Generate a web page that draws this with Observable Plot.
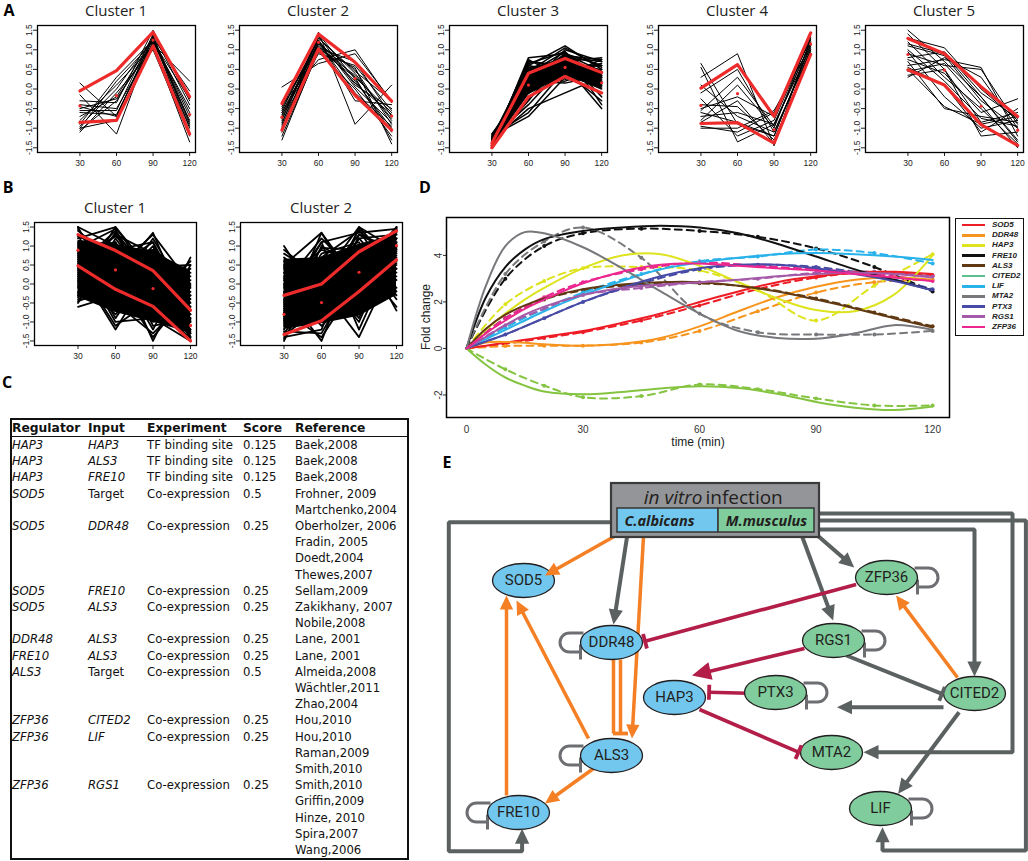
<!DOCTYPE html>
<html><head><meta charset="utf-8">
<script src="https://cdn.jsdelivr.net/npm/d3@7"></script>
<script src="https://cdn.jsdelivr.net/npm/@observablehq/plot@0.6"></script>
<style>
body{margin:0;background:#fff;}
#page{position:relative;width:1028px;height:861px;overflow:hidden;font-family:"Liberation Sans",Arial,sans-serif;}
.pl{position:absolute;font-family:"Open Sans",sans-serif;font-weight:700;font-size:16px;line-height:1;transform:translate(-50%,-50%);}
.ttl{position:absolute;font-family:"Open Sans",sans-serif;font-size:15px;line-height:1;transform:translate(-50%,-50%);white-space:nowrap;color:#222;}
.cell{position:absolute;font-family:"DejaVu Sans",Verdana,sans-serif;font-size:11.7px;line-height:1;white-space:nowrap;transform:translateY(-50%);color:#111;}
.hd{font-weight:700;font-size:12.3px;}
.it{font-style:italic;}
svg{max-width:none!important;}
</style></head>
<body><div id="page"></div>
<script>
// ---------------- DATA ----------------
const aTimes = [30, 60, 90, 120];
const aYTicks = [-1.5, -1, -0.5, 0, 0.5, 1, 1.5];

const a1Genes = [
 [0.15,-0.7,1.3,-0.9],[-0.15,-1.15,1.35,-1.0],[-1.05,-0.3,1.25,-0.6],[-1.0,0.2,1.2,-0.8],
 [-0.95,0.0,1.3,-1.1],[-0.6,-0.65,1.2,-0.5],[-0.5,-0.25,1.15,0.2],[-0.4,-0.5,1.1,-1.35],
 [-0.55,-0.55,1.4,-0.4],[-0.9,0.3,1.25,-0.7],[-1.1,-0.1,1.0,-1.2],[-0.3,-0.35,1.5,-0.3],
 [-0.7,-0.2,1.3,-0.05],[-0.8,0.1,1.1,-0.95],[-0.45,-0.7,1.35,-0.85],[-1.0,-0.8,1.2,-0.25]];
const a1Upper = [-0.05,0.47,1.45,-0.2], a1Lower = [-0.85,-0.8,1.1,-1.15], a1Mean = [-0.43,-0.17,1.25,-0.65];

const a2Genes = [
 [0.05,0.65,0.9,-0.3],[-1.3,1.0,0.55,-1.4],[-0.9,1.45,-0.9,0.1],[-0.4,0.75,1.0,-0.35],
 [-0.5,1.2,0.3,-0.6],[-0.7,1.3,0.4,-0.8],[-1.0,1.1,0.2,-1.0],[-0.8,1.35,0.1,-0.5],
 [-0.6,1.15,0.5,-0.9],[-1.2,0.95,0.0,-1.2],[-0.45,1.25,-0.3,-0.4],[-0.85,1.05,0.35,-0.75],
 [-1.1,1.4,0.25,-1.1],[-0.65,0.9,0.6,-0.55],[-0.75,1.2,-0.1,-0.95],[-0.55,1.3,0.45,-0.3],
 [-0.95,1.15,0.15,-0.65],[-0.35,1.05,0.7,-0.7],[-1.05,1.25,0.05,-0.85],[-0.6,1.0,0.3,-1.3]];
const a2Upper = [-0.37,1.4,0.68,-0.31], a2Lower = [-1.05,1.02,-0.16,-1.05], a2Mean = [-0.72,1.19,0.27,-0.69];

const a3Genes = [
 [-1.45,0.8,0.9,0.3],[-1.4,0.6,1.1,0.5],[-1.5,0.4,0.7,0.8],[-1.35,0.2,0.9,0.6],[-1.3,0.5,0.5,0.2],
 [-1.2,-0.7,0.3,0.4],[-1.25,-0.4,0.6,0.1],[-1.15,0.0,0.8,-0.2],[-1.45,0.3,0.2,0.5],[-1.4,0.1,1.0,0.7],
 [-1.5,-0.2,0.4,0.0],[-1.35,0.7,0.6,-0.5],[-1.3,-0.5,-0.1,0.3],[-1.45,0.55,0.35,0.75],[-1.2,0.25,0.75,0.45],
 [-1.4,-0.1,0.55,0.6],[-1.5,0.65,0.95,0.15],[-1.25,0.35,0.45,-0.3],[-1.35,-0.3,0.85,0.35],[-1.45,0.15,0.65,0.25],
 [-1.3,0.45,1.05,0.55],[-1.4,0.75,0.25,0.4],[-1.2,-0.6,0.5,0.65],[-1.5,0.05,0.3,-0.1],[-1.35,0.5,0.8,0.7],
 [-1.25,0.6,0.4,0.05],[-1.45,-0.25,0.7,0.2],[-1.3,0.3,0.6,0.5],[-1.4,0.4,0.95,-0.4],[-1.15,0.2,0.15,0.35],
 [-1.5,0.7,0.55,0.6],[-1.35,-0.05,0.9,0.45],[-1.25,0.55,0.7,0.3],[-1.45,0.35,0.5,0.1],[-1.3,0.1,0.85,0.75]];
const a3Upper = [-1.38,0.4,0.78,0.42], a3Lower = [-1.5,-0.2,0.32,-0.1], a3Mean = [-1.44,0.1,0.55,0.16];
const a3CoreHi = [-1.3,0.45,0.75,0.45], a3CoreLo = [-1.45,-0.15,0.35,0.0];

const a4Genes = [
 [0.65,-0.9,-1.2,1.1],[0.55,-1.35,-0.9,1.2],[0.3,0.9,-1.45,1.3],[-0.1,0.5,-1.1,1.0],[-0.5,-0.2,-0.7,1.35],
 [-0.7,-0.6,-0.9,1.05],[-0.95,-1.1,-0.6,1.25],[-0.4,-0.45,-1.3,0.9],[-0.8,0.1,-1.0,1.4],[-0.6,-0.85,-1.2,1.15],
 [-0.25,-1.2,-0.8,1.3],[-0.85,-0.3,-1.4,1.0],[-0.55,0.3,-0.95,1.2],[0.1,-0.7,-1.1,0.95],[-1.0,-1.0,-0.55,1.1]];
const a4Upper = [0.02,0.62,-0.7,1.43], a4Lower = [-0.88,-0.86,-1.38,0.88], a4Mean = [-0.42,-0.12,-1.04,1.15];

const a5Genes = [
 [1.5,0.7,-0.2,-1.3],[1.3,1.05,0.0,-0.8],[1.1,0.85,-0.3,-1.0],[0.9,0.6,0.5,-0.9],[0.75,0.4,-0.6,-0.25],
 [0.5,-0.45,-0.9,-0.7],[0.35,0.5,-1.2,-1.1],[0.95,-0.2,-1.0,-0.8],[1.2,0.3,-0.5,-1.4],[0.6,0.75,0.55,-1.2],
 [0.8,0.95,-0.1,-0.75],[1.0,0.2,-0.75,-0.95],[0.45,0.65,-0.4,-1.5],[1.4,0.5,-0.85,-0.6],[0.7,-0.5,-0.7,-0.85],
 [0.3,0.8,0.3,-1.0],[1.15,0.9,-0.2,-1.35],[0.55,0.1,-1.1,-0.5]];
const a5Upper = [1.29,0.9,0.06,-0.7], a5Lower = [0.49,0.1,-0.91,-1.44], a5Mean = [0.88,0.48,-0.44,-1.05];

const b1Genes = [
 [1.5,-0.4,0.2,-1.2],[1.4,0.6,-0.5,-1.5],[1.2,1.5,0.3,-0.8],[1.0,0.2,1.35,-1.0],[0.9,1.1,-0.8,0.1],
 [0.8,-0.9,0.6,-0.6],[0.7,0.9,1.1,-1.4],[0.6,0.5,-1.2,0.7],[0.5,1.4,0.0,-0.3],[0.4,-1.2,0.4,-1.1],
 [0.3,0.7,-1.5,0.5],[0.2,1.3,0.8,-1.3],[0.1,-0.2,1.2,-0.5],[0.0,0.3,-0.9,-1.5],[-0.1,1.5,0.1,-0.9],
 [-0.2,-0.6,-0.3,0.6],[-0.3,0.8,0.9,0.2],[-0.4,0.1,-1.4,-0.2],[-0.5,1.2,-0.1,-1.4],[-0.6,-0.3,0.5,-0.7],
 [1.5,1.0,0.7,-0.4],[1.3,-0.7,-0.2,0.3],[1.1,0.4,1.3,0.0],[0.95,1.45,-0.6,-1.2],[0.75,-1.0,-0.9,-0.1],
 [0.55,0.0,1.0,-1.5],[0.35,1.0,-1.1,-0.9],[0.15,-0.8,0.2,0.4],[-0.05,0.6,0.7,-1.25],[-0.25,1.1,-0.7,-0.6],
 [-0.45,-0.1,0.9,-1.0],[1.45,0.2,-1.0,-0.8],[1.25,0.9,0.0,-1.3],[0.85,-0.5,-1.3,-0.3],[0.65,1.25,0.45,0.5],
 [0.45,-1.1,-0.4,-1.45],[0.25,0.45,1.1,-0.7],[1.05,0.7,-0.2,-0.95],[0.05,1.35,-0.5,-0.05],[-0.35,0.55,0.3,-1.1]];
const b1Upper = [1.3,0.88,0.35,-0.69], b1Lower = [0.48,-0.14,-0.59,-1.5], b1Mean = [0.89,0.37,-0.12,-1.09];
const b1CoreHi = [1.15,1.05,0.85,0.35], b1CoreLo = [-0.35,-0.75,-1.0,-1.3];

const b2Genes = [
 [1.0,-0.5,0.3,1.2],[0.8,0.2,-0.9,1.5],[0.5,1.35,-0.3,0.4],[0.3,-1.0,1.5,0.9],[0.1,0.9,0.6,-0.6],
 [-0.1,-0.3,1.2,1.3],[-0.3,1.1,-1.2,1.0],[-0.5,0.4,0.9,-0.3],[-0.7,-1.4,0.1,1.45],[-0.9,0.7,1.4,0.6],
 [-1.1,-0.8,-0.5,1.1],[-1.3,0.0,0.8,0.2],[-1.5,0.5,-0.1,1.4],[-1.4,-1.2,1.3,0.8],[-1.2,1.0,0.4,1.5],
 [-1.0,-0.1,-1.4,0.7],[-0.8,0.8,1.1,-0.7],[-0.6,-0.7,0.5,1.35],[-0.4,0.3,-0.7,1.05],[-0.2,-1.5,1.0,0.3],
 [0.0,1.2,0.2,1.2],[0.2,-0.4,1.45,-0.2],[0.4,0.6,-0.4,1.5],[0.6,-0.9,0.7,0.5],[0.9,0.1,1.3,0.9],
 [-0.95,1.35,0.0,0.85],[-1.35,-0.6,0.6,1.0],[-0.65,0.15,1.5,0.4],[-0.05,-1.1,-0.2,1.45],[-0.45,0.95,0.9,-0.4],
 [-1.45,0.25,-1.0,1.2],[-0.85,-0.2,1.2,0.1],[0.45,0.5,0.0,1.1],[-1.25,-1.3,0.45,0.75],[-0.25,0.7,-0.6,0.95],
 [0.7,-0.05,1.0,1.3],[-0.55,1.1,1.35,1.45],[-1.05,-0.45,-0.3,0.55],[0.15,0.4,0.75,-0.1],[-0.75,-1.0,0.35,1.4]];
const b2Upper = [-0.3,0.0,0.85,1.4], b2Lower = [-1.33,-0.97,-0.2,0.64], b2Mean = [-0.8,-0.49,0.31,1.01];
const b2CoreHi = [0.65,0.7,1.05,1.3], b2CoreLo = [-1.2,-1.05,-0.85,-0.3];

// Panel D
const dGenes = ["SOD5","DDR48","HAP3","FRE10","ALS3","CITED2","LIF","MTA2","PTX3","RGS1","ZFP36"];
const dLegendColors = ["#ee1c25","#f7941d","#dde31c","#111111","#603913","#5ec08e","#29b2ea","#77787b","#474ba6","#a45aa8","#ec268f"];
const dLineColors   = ["#ee1c25","#f7941d","#dde31c","#111111","#603913","#84c441","#29b2ea","#77787b","#474ba6","#a45aa8","#ec268f"];
const dTimes = [0,5,10,15,20,30,40,50,60,70,80,90,100,110,120];
const dSolid = [
 [0,0.12,0.25,0.37,0.5,0.75,1.1,1.5,2.0,2.45,2.85,3.1,3.25,3.3,3.2],
 [0,0.25,0.28,0.24,0.18,0.12,0.2,0.45,0.95,1.6,2.2,2.65,2.95,3.05,2.95],
 [0,0.8,1.5,2.1,2.6,3.45,4.0,4.05,3.55,2.85,2.15,1.65,1.6,2.3,4.0],
 [0,2.2,3.5,4.25,4.7,5.05,5.2,5.27,5.2,4.95,4.5,3.95,3.4,2.95,2.5],
 [0,0.85,1.45,1.85,2.15,2.55,2.75,2.85,2.85,2.7,2.45,2.1,1.72,1.3,0.9],
 [0,-0.7,-1.25,-1.6,-1.85,-1.97,-1.87,-1.72,-1.63,-1.7,-1.95,-2.3,-2.55,-2.65,-2.5],
 [0,0.4,0.8,1.2,1.6,2.3,2.9,3.4,3.7,3.9,4.05,4.1,4.05,3.95,3.8],
 [0,2.7,4.4,5.0,4.95,4.35,3.45,2.45,1.5,0.75,0.45,0.42,0.65,1.0,0.8],
 [0,0.3,0.6,0.95,1.3,2.0,2.6,3.1,3.45,3.6,3.6,3.45,3.2,2.9,2.5],
 [0,0.5,1.0,1.45,1.8,2.3,2.6,2.75,2.85,2.95,3.1,3.2,3.25,3.2,3.05],
 [0,0.65,1.2,1.7,2.1,2.8,3.3,3.6,3.65,3.55,3.45,3.35,3.2,3.05,2.9]];
const dDashTimes = [0,10,20,30,45,60,75,90,105,120];
const dDashed = [
 [0,0.2,0.45,0.7,1.2,1.85,2.55,3.05,3.3,3.15],
 [0,0.1,0.12,0.12,0.25,0.75,1.6,2.4,2.85,2.95],
 [0,1.9,2.9,3.45,3.5,3.35,2.5,1.2,2.7,4.05],
 [0,3.0,4.4,4.95,5.15,5.05,4.8,4.3,3.5,2.45],
 [0,1.3,2.1,2.5,2.75,2.8,2.6,2.15,1.55,0.95],
 [0,-0.9,-1.6,-2.1,-2.05,-1.55,-1.75,-2.15,-2.45,-2.45],
 [0,0.9,1.7,2.4,3.2,3.75,3.95,4.25,4.1,3.65],
 [0,3.2,4.6,5.2,3.9,1.5,0.7,0.6,0.6,0.75],
 [0,0.6,1.3,2.0,2.8,3.4,3.6,3.5,3.15,2.55],
 [0,1.0,1.7,2.3,2.6,2.85,3.0,3.25,3.3,3.1],
 [0,1.3,2.2,2.85,3.4,3.7,3.55,3.4,3.2,2.9]];
const dXTicks = [0,30,60,90,120];
const dYTicks = [-2,0,2,4];

// Panel C table
const tHeader = ["Regulator","Input","Experiment","Score","Reference"];
const tRegulator = ["HAP3","HAP3","HAP3","SOD5","","SOD5","","","","SOD5","SOD5","","DDR48","FRE10","ALS3","","","ZFP36","ZFP36","","","ZFP36","","","",""];
const tInput = ["HAP3","ALS3","FRE10","Target","","DDR48","","","","FRE10","ALS3","","ALS3","ALS3","Target","","","CITED2","LIF","","","RGS1","","","",""];
const tExperiment = ["TF binding site","TF binding site","TF binding site","Co-expression","","Co-expression","","","","Co-expression","Co-expression","","Co-expression","Co-expression","Co-expression","","","Co-expression","Co-expression","","","Co-expression","","","",""];
const tScore = ["0.125","0.125","0.125","0.5","","0.25","","","","0.25","0.25","","0.25","0.25","0.5","","","0.25","0.25","","","0.25","","","",""];
const tReference = ["Baek,2008","Baek,2008","Baek,2008","Frohner, 2009","Martchenko,2004","Oberholzer, 2006","Fradin, 2005","Doedt,2004","Thewes,2007","Sellam,2009","Zakikhany, 2007","Nobile,2008","Lane, 2001","Lane, 2001","Almeida,2008","Wächtler,2011","Zhao,2004","Hou,2010","Hou,2010","Raman,2009","Smith,2010","Smith,2010","Griffin,2009","Hinze, 2010","Spira,2007","Wang,2006"];

// Panel E network
const eNodeName = ["SOD5","DDR48","HAP3","ALS3","FRE10","ZFP36","RGS1","PTX3","CITED2","MTA2","LIF"];
const eNodeHost = ["C","C","C","C","C","M","M","M","M","M","M"];
const eNodeX = [523,611,674,611,518,886,833,775,974,831,880];
const eNodeY = [580,642,697,755,812,577,640,692,693,752,808];
const eLoopLeft = ["DDR48","ALS3","FRE10"];
const eLoopRight = ["ZFP36","RGS1","PTX3","LIF"];
const eEdges = [
 {c:"g",h:"arrow",p:[[626.6,536],[613,624]]},
 {c:"g",h:"arrow",p:[[802,537],[832.7,620]]},
 {c:"g",h:"arrow",p:[[817,535],[853.7,567]]},
 {c:"g",h:"arrow",p:[[813.6,529],[974,529],[974,676]]},
 {c:"g",h:"arrow",p:[[813.6,513],[1012,513],[1012,751.7],[863,751.7]]},
 {c:"g",h:"arrow",p:[[813.6,520],[1025.4,520],[1025.4,850],[882,850],[882,826.7]]},
 {c:"g",h:"arrow",p:[[612.4,521.7],[448.3,521.7],[448.3,850.7],[521.6,850.7],[521.6,828.3]]},
 {c:"g",h:"arrow",p:[[943,706.7],[836.5,706.7]]},
 {c:"g",h:"arrow",p:[[958.6,711.7],[897.6,793.3]]},
 {c:"g",h:"bar",p:[[846,655],[941.5,693.3]]},
 {c:"o",h:"arrow",p:[[619,533],[544.5,575]]},
 {c:"o",h:"arrow",p:[[643,536],[631.5,738]]},
 {c:"o",h:"none",p:[[613,659],[613,733]]},
 {c:"o",h:"bar",p:[[620,659],[620,733]]},
 {c:"o",h:"arrow",p:[[588,738],[516,600]]},
 {c:"o",h:"arrow",p:[[506,795],[506,595]]},
 {c:"o",h:"arrow",p:[[600,763],[544.5,803]]},
 {c:"o",h:"arrow",p:[[957,677],[895.6,595]]},
 {c:"r",h:"bar",p:[[855.6,584],[644.5,640.7]]},
 {c:"r",h:"arrow",p:[[804,648],[691.5,675]]},
 {c:"r",h:"bar",p:[[746.8,692.7],[708.6,691.7]]},
 {c:"r",h:"bar",p:[[699,709],[798,751.7]]}
];

// ---------------- HELPERS ----------------
const page = document.getElementById("page");
function put(el, left, top){ const d=document.createElement("div"); d.style.cssText=`position:absolute;left:${left}px;top:${top}px;`; d.appendChild(el); page.appendChild(d); return d; }
function html(cls, txt, left, top, extra=""){ const d=document.createElement("div"); d.className=cls; d.textContent=txt; d.style.cssText+=`left:${left}px;top:${top}px;${extra}`; page.appendChild(d); return d; }

const RED = "#ee2b2b";
function cluster(left, top, w, h, genes, upper, lower, mean, lw, coreHi, coreLo){
  const ml=28, mr=4, mt=4, mb=22;
  const rows = genes.flatMap((g,i)=>aTimes.map((t,j)=>({t, v:g[j], id:i})));
  const reds = [upper, lower].flatMap((g,i)=>aTimes.map((t,j)=>({t, v:g[j], id:i})));
  const dots = aTimes.map((t,j)=>({t, v:mean[j]}));
  const core = coreHi ? aTimes.map((t,j)=>({t, hi:coreHi[j], lo:coreLo[j]})) : [];
  const svg = Plot.plot({
    width: w+ml+mr, height: h+mt+mb, marginLeft: ml, marginRight: mr, marginTop: mt, marginBottom: mb,
    style: {background:"transparent", overflow:"visible", fontFamily:"Liberation Sans, Arial, sans-serif", fontSize:"8.5px", color:"#222"},
    x: {domain:[-4.8,124.8], ticks:aTimes, tickSize:4, tickPadding:3, label:null},
    y: {domain:[-1.62,1.62], ticks:aYTicks, tickFormat:d=>d.toFixed(1), tickRotate:-90, tickSize:4, tickPadding:2, label:null},
    marks: [
      Plot.areaY(core, {x:"t", y1:"lo", y2:"hi", fill:"#000"}),
      Plot.line(rows, {x:"t", y:"v", z:"id", stroke:"#000", strokeWidth:lw}),
      Plot.line(reds, {x:"t", y:"v", z:"id", stroke:RED, strokeWidth:3.2}),
      Plot.dot(dots, {x:"t", y:"v", r:1.6, fill:RED}),
      Plot.frame({stroke:"#000", strokeWidth:1.3})
    ]
  });
  put(svg, left-ml, top-mt);
}

// ---------------- PANEL A ----------------
const aTop=25, aH=127, aW=158;
const aLefts=[37,239,449,658,865];
[[a1Genes,a1Upper,a1Lower,a1Mean,1],[a2Genes,a2Upper,a2Lower,a2Mean,1],[a3Genes,a3Upper,a3Lower,a3Mean,1.5,a3CoreHi,a3CoreLo],[a4Genes,a4Upper,a4Lower,a4Mean,1],[a5Genes,a5Upper,a5Lower,a5Mean,1]]
 .forEach(([g,u,l,m,lw,ch,cl],i)=>{ cluster(aLefts[i], aTop, aW, aH, g,u,l,m,lw,ch,cl); html("ttl", "Cluster "+(i+1), aLefts[i]+aW/2, 10); });
html("pl","A",9,10);

// ---------------- PANEL B ----------------
const bTop=222, bH=123, bW=162, bLefts=[34,240];
[[b1Genes,b1Upper,b1Lower,b1Mean,b1CoreHi,b1CoreLo],[b2Genes,b2Upper,b2Lower,b2Mean,b2CoreHi,b2CoreLo]].forEach(([g,u,l,m,ch,cl],i)=>{
  cluster(bLefts[i], bTop, bW, bH, g,u,l,m,1.8,ch,cl); html("ttl","Cluster "+(i+1), bLefts[i]+bW/2, 207);
});
html("pl","B",8,187);

// ---------------- PANEL C ----------------
html("pl","C",7,382);
const tbl=document.createElement("div");
tbl.style.cssText="position:absolute;left:10px;top:418px;width:395px;height:438px;border:2px solid #111;";
page.appendChild(tbl);
const hr=document.createElement("div");
hr.style.cssText="position:absolute;left:10px;top:436px;width:399px;height:0;border-top:1.6px solid #111;";
page.appendChild(hr);
const tCols=[12,88,147,243,295];
tHeader.forEach((h,k)=>html("cell hd",h,tCols[k],428));
const tCells=[tRegulator,tInput,tExperiment,tScore,tReference];
tReference.forEach((_,r)=>{
  const y=446+r*16.2;
  tCells.forEach((col,k)=>{
    const s=col[r]; if(!s) return;
    const italic = (k===0) || (k===1 && s!=="Target");
    html("cell"+(italic?" it":""), s, tCols[k], y);
  });
});

// ---------------- PANEL D ----------------
html("pl","D",425,187);
{
  const ml=46, mr=5, mt=17, mb=45, fw=503, fh=200;
  const solid = dGenes.flatMap((g,i)=>dTimes.map((t,j)=>({g, t, v:dSolid[i][j], c:dLineColors[i]})));
  const dashed = dGenes.flatMap((g,i)=>dDashTimes.map((t,j)=>({g, t, v:dDashed[i][j], c:dLineColors[i]})));
  const svg = Plot.plot({
    width: fw+ml+mr, height: fh+mt+mb, marginLeft:ml, marginRight:mr, marginTop:mt, marginBottom:mb,
    style:{background:"transparent", overflow:"visible", fontFamily:"Liberation Sans, Arial, sans-serif", fontSize:"10px", color:"#333"},
    color:{type:"identity"},
    x:{domain:[-5.15,124.35], ticks:dXTicks, tickSize:0, tickPadding:8, label:null},
    y:{domain:[-2.97,5.63], ticks:dYTicks, tickRotate:-90, tickSize:3, tickPadding:2, label:null, tickFormat:d=>String(d)},
    marks:[
      Plot.line(dashed, {x:"t", y:"v", z:"g", stroke:"c", strokeWidth:2, strokeDasharray:"7,5", curve:"catmull-rom"}),
      Plot.dot(dashed.filter(d=>d.t>0), {x:"t", y:"v", r:2, fill:"c"}),
      Plot.line(solid, {x:"t", y:"v", z:"g", stroke:"c", strokeWidth:2, curve:"catmull-rom"}),
      Plot.frame({stroke:"#000", strokeWidth:1.5})
    ]
  });
  put(svg, 446-ml, 217-mt);
  html("ttl","time (min)",698,442,"font-size:12px;font-family:'Liberation Sans',Arial,sans-serif;");
  html("ttl","Fold change",426,317,"font-size:12px;font-family:'Liberation Sans',Arial,sans-serif;transform:translate(-50%,-50%) rotate(-90deg);");
  const lg=document.createElement("div");
  lg.style.cssText="position:absolute;left:955px;top:218px;width:67px;height:116px;border:1.5px solid #111;background:#fff;";
  page.appendChild(lg);
  dGenes.forEach((g,i)=>{
    const y=225+i*10.2;
    const ln=document.createElement("div");
    ln.style.cssText=`position:absolute;left:962px;top:${y-1.4}px;width:23px;height:2.8px;background:${dLegendColors[i]};`;
    page.appendChild(ln);
    html("cell", g, 992, y, "font-family:'Liberation Sans',Arial,sans-serif;font-size:8px;font-style:italic;font-weight:700;color:#222;");
  });
}

// ---------------- PANEL E ----------------
html("pl","E",447,462);
{
  const col={g:"#5b6060", o:"#f47f24", r:"#b31e48"};
  const headR={g:15, o:14, r:19};
  const width={g:4, o:3.5, r:3.6};
  const lineRows=[], heads=[], bars=[];
  eEdges.forEach((e,k)=>{
    const p=e.p.map(d=>d.slice()); const n=p.length;
    const [x1,y1]=p[n-2], [x2,y2]=p[n-1];
    const dx=x2-x1, dy=y2-y1, len=Math.hypot(dx,dy), ux=dx/len, uy=dy/len;
    const ang=Math.atan2(dy,dx)*180/Math.PI;
    if(e.h==="arrow"){ const L=headR[e.c]*0.7; p[n-1]=[x2-ux*L, y2-uy*L]; heads.push({x:x2,y:y2,a:ang,c:e.c}); }
    if(e.h==="bar") bars.push({x:x2,y:y2,a:ang,c:e.c});
    p.forEach(([x,y])=>lineRows.push({x,y,id:k,c:e.c}));
  });
  const arrowSym={draw(ctx,size){const L=Math.sqrt(size/Math.PI), W=L*0.95; ctx.moveTo(0,0); ctx.lineTo(-L,-W/2); ctx.lineTo(-L,W/2); ctx.closePath();}};
  const barSym={draw(ctx,size){const L=Math.sqrt(size/Math.PI), t=1.9; ctx.moveTo(-t,-L/2); ctx.lineTo(t,-L/2); ctx.lineTo(t,L/2); ctx.lineTo(-t,L/2); ctx.closePath();}};
  const ellSym={draw(ctx){const rx=31, ry=17, k=0.5523; ctx.moveTo(rx,0); ctx.bezierCurveTo(rx,ry*k,rx*k,ry,0,ry); ctx.bezierCurveTo(-rx*k,ry,-rx,ry*k,-rx,0); ctx.bezierCurveTo(-rx,-ry*k,-rx*k,-ry,0,-ry); ctx.bezierCurveTo(rx*k,-ry,rx,-ry*k,rx,0); ctx.closePath();}};
  const loopR={draw(ctx){ctx.moveTo(0,-9.5); ctx.lineTo(14,-9.5); ctx.arc(14,0,9.5,-Math.PI/2,Math.PI/2); ctx.lineTo(3,9.5); ctx.moveTo(3,2); ctx.lineTo(3,17);}};
  const loopL={draw(ctx){ctx.moveTo(0,-9.5); ctx.lineTo(-14,-9.5); ctx.arc(-14,0,9.5,-Math.PI/2,Math.PI/2,true); ctx.lineTo(-3,9.5); ctx.moveTo(-3,2); ctx.lineTo(-3,17);}};
  const nodes=eNodeName.map((n,i)=>({n, x:eNodeX[i], y:eNodeY[i], f: eNodeHost[i]==="C" ? "#72c7ef" : "#80cc9c"}));
  const loopsL=nodes.filter(d=>eLoopLeft.includes(d.n)).map(d=>({x:d.x-28, y:d.y}));
  const loopsR=nodes.filter(d=>eLoopRight.includes(d.n)).map(d=>({x:d.x+28, y:d.y}));
  const marks=[];
  ["g","o","r"].forEach(c=>marks.push(Plot.line(lineRows.filter(d=>d.c===c), {x:"x", y:"y", z:"id", stroke:col[c], strokeWidth:width[c], strokeLinejoin:"miter", strokeLinecap:"butt"})));
  marks.push(
    Plot.rect([{x1:611,x2:819,y1:483,y2:537}], {x1:"x1",x2:"x2",y1:"y1",y2:"y2", fill:"#939598", stroke:"#3b3b3b", strokeWidth:2.2}),
    Plot.rect([{x1:617,x2:718,y1:508,y2:532,f:"#72c7ef"},{x1:718,x2:814,y1:508,y2:532,f:"#80cc9c"}], {x1:"x1",x2:"x2",y1:"y1",y2:"y2", fill:"f", stroke:"#3b3b3b", strokeWidth:1.6}),
    Plot.text([{x:702,y:497}], {x:"x",y:"y",text:()=>"in vitro", textAnchor:"end", fontStyle:"italic", fontSize:19, fontFamily:"Open Sans, sans-serif", fill:"#231f20"}),
    Plot.text([{x:705,y:497}], {x:"x",y:"y",text:()=>"infection", textAnchor:"start", fontSize:19, fontFamily:"Open Sans, sans-serif", fill:"#231f20"}),
    Plot.text([{x:659,y:521,t:"C.albicans"},{x:766,y:521,t:"M.musculus"}], {x:"x",y:"y",text:"t", fontStyle:"italic", fontWeight:700, fontSize:14.5, fontFamily:"Open Sans, sans-serif", fill:"#231f20"}),
    Plot.dot(loopsL, {x:"x",y:"y", symbol:loopL, r:5, fill:"none", stroke:"#6d6e71", strokeWidth:3}),
    Plot.dot(loopsR, {x:"x",y:"y", symbol:loopR, r:5, fill:"none", stroke:"#6d6e71", strokeWidth:3}),
    Plot.dot(nodes, {x:"x",y:"y", symbol:ellSym, r:10, fill:"f", stroke:"#231f20", strokeWidth:1.3}),
    Plot.text(nodes, {x:"x",y:"y",text:"n", fontSize:15, fontFamily:"Roboto, sans-serif", fill:"#231f20"})
  );
  ["g","o","r"].forEach(c=>{
    marks.push(Plot.dot(heads.filter(d=>d.c===c), {x:"x",y:"y",rotate:"a",symbol:arrowSym,r:headR[c],fill:col[c]}));
    marks.push(Plot.dot(bars.filter(d=>d.c===c), {x:"x",y:"y",rotate:"a",symbol:barSym,r:15,fill:col[c]}));
  });
  const svg=Plot.plot({
    width:588, height:391, margin:0,
    x:{domain:[440,1028], axis:null}, y:{domain:[861,470], axis:null},
    color:{type:"identity"},
    style:{background:"transparent", overflow:"visible"},
    marks
  });
  put(svg, 440, 470);
}
</script></body></html>
